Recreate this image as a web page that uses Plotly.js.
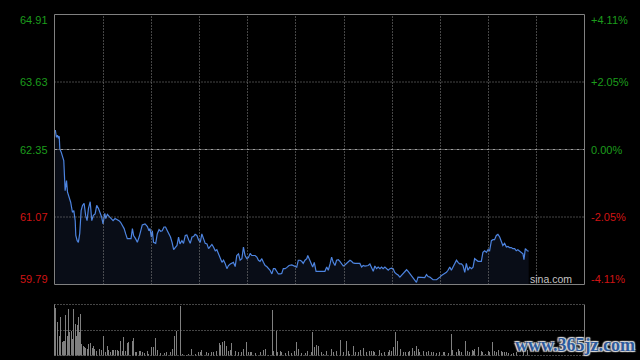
<!DOCTYPE html>
<html><head><meta charset="utf-8">
<script src="https://cdn.plot.ly/plotly-3.0.1.min.js"></script>
<style>html,body{margin:0;padding:0;background:#000;}#chart{width:640px;height:360px;}</style>
</head><body><div id="chart"></div>
<script>
// minutes since open, price
const minutes = [0.4,1.0,1.5,2.0,2.4,2.7,3.4,4.0,4.7,5.4,6.1,6.6,7.1,7.7,8.2,9.1,9.8,10.5,10.8,11.5,12.1,12.8,13.5,14.2,15.0,15.8,16.5,17.2,18.1,18.9,19.7,20.6,21.4,22.3,23.1,23.9,24.6,25.5,26.0,26.8,27.7,28.5,29.7,30.7,31.9,32.7,33.5,34.4,35.3,36.1,36.9,38.1,38.8,39.5,40.1,41.1,42.0,42.9,43.7,44.5,45.9,47.1,47.9,48.4,49.1,49.6,50.2,51.3,52.1,53.0,53.8,54.6,55.5,56.3,57.2,58.0,58.8,
59.6,60.4,61.2,62.1,62.9,63.6,64.6,65.4,66.3,67.1,68.0,68.8,69.7,70.5,71.3,72.2,73.0,73.9,74.7,75.5,76.4,77.3,78.1,78.9,79.8,80.6,81.5,82.3,83.1,84.0,84.9,85.7,86.5,87.4,88.2,89.1,89.9,90.7,91.6,92.4,93.3,94.1,95.0,95.8,96.6,97.5,98.3,99.2,100.0,100.8,101.7,102.6,103.4,104.2,105.1,105.9,106.8,107.6,108.4,109.3,110.2,111.0,111.8,112.7,113.5,114.4,115.2,116.0,116.9,117.7,118.9,
120.3,121.9,122.8,123.6,124.5,125.3,126.1,127.0,127.9,128.4,129.0,130.0,130.9,131.7,132.6,133.7,135.5,137.1,138.0,138.8,139.7,140.5,141.3,142.2,143.0,143.9,144.7,145.6,146.4,147.2,148.1,148.9,149.8,150.6,151.4,152.3,153.2,154.0,154.8,155.7,156.5,157.4,158.2,159.0,159.9,160.8,161.6,162.4,163.3,164.1,165.0,165.8,166.6,167.5,168.3,169.2,170.0,170.9,171.7,172.5,173.4,174.2,175.1,175.9,176.7,177.6,178.5,
179.3,180.1,181.0,181.8,182.7,183.5,184.3,185.2,186.9,187.7,188.6,189.4,190.3,191.1,191.9,193.7,194.5,195.3,196.2,197.0,197.8,198.7,199.5,200.4,201.2,202.0,202.9,203.8,204.6,205.4,206.3,207.1,208.0,208.8,209.6,210.5,211.4,212.2,213.0,213.9,214.7,215.6,216.4,217.2,218.1,219.0,219.8,220.6,221.5,222.3,223.1,224.0,224.8,225.7,226.5,227.3,228.2,229.1,229.9,230.7,231.6,232.4,233.3,234.1,234.9,235.8,236.6,237.5,238.0,238.7,239.7,240.4];
const prices = [62.72,62.58,62.62,62.56,62.60,62.36,62.30,62.24,62.14,61.57,61.76,61.54,61.48,61.45,61.35,61.16,61.19,61.00,60.72,60.62,60.59,60.76,61.19,61.29,61.33,61.10,61.00,61.23,61.36,61.00,61.10,61.13,61.29,61.23,61.16,61.07,60.94,61.14,61.04,61.12,61.08,61.04,61.00,61.04,61.02,61.00,60.97,60.91,60.85,60.75,60.66,60.66,60.66,60.85,60.72,60.66,60.59,60.69,60.81,60.92,60.94,60.89,60.81,60.85,60.69,60.81,60.59,60.57,60.75,60.83,60.80,60.81,60.88,60.88,60.81,60.75,60.69,
60.59,60.45,60.49,60.53,60.69,60.56,60.62,60.57,60.72,60.73,60.64,60.57,60.69,60.70,60.74,60.72,60.64,60.59,60.75,60.64,60.57,60.56,60.47,60.51,60.55,60.50,60.43,60.45,60.37,60.28,60.21,60.25,60.19,60.09,60.15,60.18,60.19,60.21,60.13,60.34,60.37,60.25,60.28,60.50,60.34,60.28,60.30,60.38,60.34,60.34,60.34,60.31,60.25,60.23,60.28,60.21,60.15,60.13,60.09,60.06,59.99,60.09,60.09,60.04,59.99,59.99,60.00,60.09,60.09,60.11,60.15,
60.16,60.14,60.12,60.25,60.25,60.23,60.19,60.25,60.28,60.34,60.28,60.18,60.12,60.21,60.04,60.04,60.04,60.04,60.12,60.06,60.18,60.31,60.21,60.15,60.25,60.26,60.23,60.18,60.14,60.16,60.19,60.23,60.25,60.23,60.20,60.19,60.19,60.18,60.19,60.12,60.15,60.14,60.14,60.15,60.18,60.12,60.04,60.14,60.09,60.12,60.09,60.12,60.09,60.12,60.09,60.06,60.09,60.10,60.09,60.02,59.99,59.97,59.93,59.96,59.99,60.02,60.07,
60.04,60.00,59.96,59.93,59.88,59.83,59.93,59.93,59.93,59.92,59.98,59.94,59.93,59.90,59.88,59.88,59.90,59.93,59.96,59.98,59.99,60.02,60.06,60.12,60.06,60.12,60.18,60.25,60.21,60.18,60.18,60.15,60.02,60.19,60.06,60.12,60.09,60.12,60.28,60.25,60.23,60.23,60.23,60.40,60.43,60.40,60.45,60.43,60.62,60.64,60.64,60.72,60.74,60.69,60.62,60.53,60.57,60.50,60.51,60.49,60.49,60.47,60.47,60.43,60.45,60.42,60.40,60.37,60.26,60.47,60.43,60.42];

const volMinutes = [0.5,1.7,2.4,3.0,3.9,4.4,4.9,5.7,6.4,7.1,
7.8,8.4,8.9,9.8,10.5,11.0,11.5,12.0,12.7,13.2,
13.8,14.5,15.2,15.8,16.5,17.4,18.2,19.1,19.6,20.4,
21.1,22.9,23.6,24.9,25.8,26.7,27.5,28.3,29.2,30.0,
30.9,31.7,32.5,33.4,34.4,35.1,35.9,36.8,37.6,39.3,
39.8,41.0,41.8,42.9,43.5,44.5,45.5,46.9,47.9,49.4,
50.2,51.3,52.0,53.6,54.5,55.7,57.0,58.7,59.7,60.9,
61.6,63.9,65.1,67.1,68.0,69.7,71.3,73.0,73.9,74.7,
77.3,78.1,79.8,80.6,82.3,83.7,84.4,85.0,86.0,87.0,
88.2,89.1,89.9,91.6,93.3,95.0,95.8,97.5,98.3,99.2,
100.0,101.7,104.2,105.9,106.8,108.4,110.5,111.0,112.3,113.2,
114.4,115.2,116.9,118.6,120.3,121.9,122.8,123.6,125.3,127.0,
128.2,130.4,130.9,131.6,132.6,133.7,135.5,136.3,138.0,140.5,
141.3,143.0,145.1,146.4,148.1,148.9,149.8,151.4,152.8,154.0,
155.2,156.5,158.2,159.9,160.8,161.6,162.4,164.6,165.8,167.5,
169.2,170.0,170.9,172.0,173.1,173.7,175.4,176.7,178.1,179.3,
180.1,181.5,182.5,183.5,184.5,185.2,186.9,188.6,189.4,191.1,
191.9,193.7,195.3,197.0,197.8,199.5,201.2,202.0,203.8,204.6,
205.4,206.3,207.1,208.5,209.6,210.5,211.9,212.5,213.0,214.2,
215.2,216.4,217.2,218.6,219.8,220.6,222.3,223.1,224.0,225.3,
226.5,227.3,228.2,229.1,230.4,231.6,232.5,234.0,236.0,238.0,
240.0];
const volumes = [4770,3330,2000,3830,1330,1430,1500,4100,2000,4670,
2330,2500,1670,4670,3170,2000,3100,3830,2330,4170,
1170,1000,830,770,670,1170,1230,770,1000,670,
430,630,570,2000,330,1000,570,330,570,570,
570,570,430,1500,500,1900,500,1230,1330,1500,
1770,330,330,430,500,330,230,430,170,900,
900,1770,570,230,330,230,330,330,670,2000,
2500,5000,170,100,170,670,170,330,330,570,
330,230,330,400,500,1230,1100,1330,1500,1000,
500,570,1230,500,330,330,670,1330,330,330,
330,230,330,570,670,100,4570,500,2500,330,
500,330,230,430,230,500,1330,670,230,230,
430,330,2330,830,1100,1000,330,170,500,670,
330,500,1600,330,1500,430,170,1000,330,330,
570,770,330,500,430,500,330,570,230,330,
330,570,500,900,2330,1500,670,330,330,330,
500,770,500,1000,670,330,500,330,500,330,
330,230,330,330,330,230,2170,570,330,670,
500,330,330,1430,500,330,570,500,670,3770,
830,500,330,170,500,330,1330,500,330,570,
500,330,330,330,230,170,300,330,400,500,
600];

const prevClose = 62.35;
const priceTicks = [64.91, 63.63, 62.35, 61.07, 59.79];
const priceLabels = ['64.91', '63.63', '62.35', '61.07', '59.79'];
const pctLabels = ['+4.11%', '+2.05%', '0.00%', '-2.05%', '-4.11%'];

const W = 640, H = 360;
const L = 54.5, R = 584.5, T = 14.5, B = 284.5, VT = 304.5, VM = 330.5, VB = 355.5;
const px = v => v / W;
const py = v => 1 - v / H;
const GREEN = '#1c9c1c', RED = '#d01414';
const GRID = '#8a8a8a';

const traces = [
  {x: minutes, y: prices, type: 'scatter', mode: 'lines',
   line: {color: '#4d84e0', width: 1.2}, fill: 'tozeroy', fillcolor: 'rgba(40,60,105,0.22)', hoverinfo: 'skip'},
  {x: volMinutes, y: volumes, type: 'bar', yaxis: 'y2',
   marker: {color: '#808080', line: {width: 0}}, width: 0.5, hoverinfo: 'skip'}
];

const shapes = [];
// vertical grid lines
for (let k = 1; k <= 10; k++) {
  const xx = L + k * (R - L) / 11;
  shapes.push({type: 'line', xref: 'paper', yref: 'paper', x0: px(Math.round(xx) + 0.5), x1: px(Math.round(xx) + 0.5), y0: py(B), y1: py(T),
    line: {color: GRID, width: 1, dash: '1px,2px'}});
}
// horizontal price grid lines
priceTicks.forEach((v, i) => {
  if (i === 0 || i === priceTicks.length - 1) return;
  shapes.push({type: 'line', xref: 'paper', yref: 'y', x0: px(L), x1: px(R), y0: v, y1: v,
    line: {color: v === prevClose ? '#a0a0a0' : GRID, width: 1, dash: v === prevClose ? '3px,1px,1px,1px' : '1px,2px'}});
});
// main border
shapes.push({type: 'rect', xref: 'paper', yref: 'paper', x0: px(L), x1: px(R), y0: py(B), y1: py(T),
  line: {color: '#808080', width: 1}});
// volume panel
shapes.push({type: 'line', xref: 'paper', yref: 'paper', x0: px(L), x1: px(L), y0: py(VB), y1: py(VT), line: {color: '#808080', width: 1}});
shapes.push({type: 'line', xref: 'paper', yref: 'paper', x0: px(R), x1: px(R), y0: py(VB), y1: py(VT), line: {color: '#808080', width: 1}});
[VT, VM, VB].forEach(yy => shapes.push({type: 'line', xref: 'paper', yref: 'paper', x0: px(L), x1: px(R), y0: py(yy), y1: py(yy),
  line: {color: GRID, width: 1, dash: '1px,2px'}}));

const annotations = [];
priceTicks.forEach((v, i) => {
  const col = v >= prevClose ? GREEN : RED;
  const shift = i === 0 ? -6 : (i === priceTicks.length - 1 ? 6 : 0);
  annotations.push({xref: 'paper', yref: 'y', x: px(50), y: v, yshift: shift, xanchor: 'right', yanchor: 'middle',
    text: priceLabels[i], showarrow: false, font: {family: 'Liberation Sans, Arial', size: 11, color: col}});
  annotations.push({xref: 'paper', yref: 'y', x: px(589), y: v, yshift: shift, xanchor: 'left', yanchor: 'middle',
    text: pctLabels[i], showarrow: false, font: {family: 'Liberation Sans, Arial', size: 11, color: col}});
});
annotations.push({xref: 'paper', yref: 'paper', x: px(574), y: py(279), xanchor: 'right', yanchor: 'middle',
  text: 'sina.com', showarrow: false, font: {family: 'Liberation Sans, Arial', size: 10.5, color: '#c4c4c4'}});
annotations.push({xref: 'paper', yref: 'paper', x: px(575), y: py(345), xanchor: 'center', yanchor: 'middle',
  text: 'www.365jz.com', showarrow: false,
  font: {family: 'Liberation Serif, DejaVu Serif', size: 18, color: '#2d5a9c', weight: 'bold',
         shadow: '1px 1px 1px #dcdcdc, -1px -1px 1px #dcdcdc, 1px -1px 1px #dcdcdc, -1px 1px 1px #dcdcdc'}});

const layout = {
  width: W, height: H,
  margin: {l: 0, r: 0, t: 0, b: 0, pad: 0},
  paper_bgcolor: '#000', plot_bgcolor: '#000',
  showlegend: false,
  bargap: 0,
  xaxis: {domain: [px(L), px(R)], range: [0, 268.7], visible: false, fixedrange: true},
  yaxis: {domain: [py(B), py(T)], range: [59.79, 64.91], visible: false, fixedrange: true},
  yaxis2: {domain: [py(VB), py(VT)], range: [0, 5100], visible: false, fixedrange: true},
  shapes: shapes,
  annotations: annotations
};

Plotly.newPlot('chart', traces, layout, {staticPlot: true, displayModeBar: false});
</script>
</body></html>
